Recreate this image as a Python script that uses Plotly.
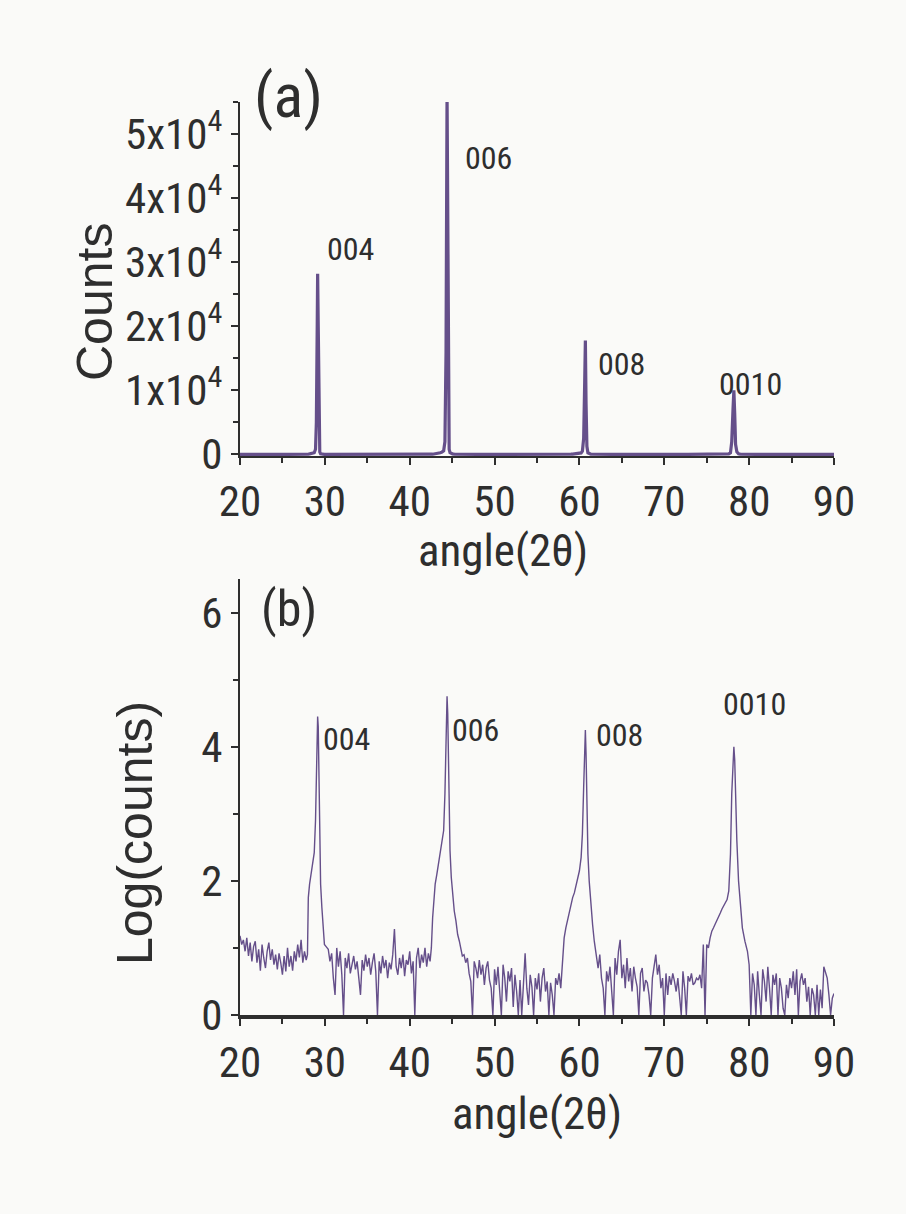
import plotly.graph_objects as go

# ---------------- data (log10 of counts) ----------------
STEP = 0.2  # sampling step of the background segments (degrees)

bg1_start = 20.0
bg1_log = [1.18, 1.05, 1.12, 0.95, 1.15, 0.88, 1.08, 0.80, 1.02, 1.10,
           0.78, 0.98, 0.66, 1.05, 0.85, 0.70, 0.95, 1.08, 0.82, 0.98,
           0.75, 0.90, 0.68, 0.92, 0.78, 0.60, 0.88, 0.65, 1.00, 0.72,
           0.88, 0.66, 0.95, 0.80, 1.05, 0.86, 1.12, 0.78, 0.95, 0.82]

p004_angle = [27.95, 28.05, 28.2, 28.4, 28.6, 28.75, 28.9, 29.0, 29.1, 29.15,
              29.22, 29.3, 29.4, 29.5, 29.65, 29.8, 29.95, 30.15]
p004_log = [0.90, 1.75, 1.95, 2.15, 2.30, 2.42, 2.9, 3.7, 4.3, 4.45,
            4.3, 3.5, 2.6, 1.95, 1.60, 1.25, 1.05, 1.02]

bg2_start = 30.4
bg2_log = [0.98, 0.80, 0.92, 0.55, 0.30, 1.00, 0.72, 0.95, 0.60, 0.00,
           0.85, 0.70, 0.92, 0.62, 0.78, 0.88, 0.68, 0.80, 0.55, 0.30,
           0.82, 0.66, 0.90, 0.72, 0.85, 0.60, 0.78, 0.92, 0.65, 0.00,
           0.80, 0.62, 0.88, 0.70, 0.82, 0.55, 0.78, 0.68, 0.90, 1.28,
           0.72, 0.60, 0.85, 0.70, 0.90, 0.58, 0.82, 0.75, 0.95, 0.62,
           0.80, 0.00, 0.85, 1.00, 0.70, 0.90, 0.78, 1.00, 0.72, 0.92,
           0.80]

p006_angle = [42.55, 42.7, 42.85, 43.0, 43.2, 43.4, 43.6, 43.8, 44.0, 44.15,
              44.28, 44.4, 44.48, 44.56, 44.65, 44.75, 44.9, 45.05, 45.25,
              45.45, 45.65, 45.85, 46.05, 46.2]
p006_log = [1.00, 1.45, 1.80, 1.95, 2.10, 2.25, 2.40, 2.55, 2.75, 3.3,
            4.2, 4.75, 4.5, 3.6, 2.9, 2.45, 2.05, 1.80, 1.55,
            1.40, 1.20, 1.10, 0.95, 0.88]

bg3_start = 46.4
bg3_log = [0.90, 0.78, 0.85, 0.62, 0.50, 0.00, 0.80, 0.70, 0.55, 0.82,
           0.60, 0.75, 0.45, 0.70, 0.80, 0.52, 0.40, 0.00, 0.68, 0.45,
           0.72, 0.30, 0.00, 0.75, 0.55, 0.20, 0.65, 0.50, 0.70, 0.12,
           0.60, 0.35, 0.00, 0.52, 0.00, 0.45, 0.92, 0.40, 0.15, 0.60,
           0.42, 0.00, 0.55, 0.38, 0.62, 0.20, 0.55, 0.70, 0.35, 0.50,
           0.00, 0.48, 0.30, 0.00, 0.55, 0.45, 0.62, 0.40, 0.75]

p008_angle = [58.2, 58.4, 58.6, 58.8, 59.0, 59.2, 59.4, 59.6, 59.8, 60.0,
              60.2, 60.35, 60.5, 60.62, 60.7, 60.78, 60.88, 61.0, 61.15,
              61.35, 61.55, 61.75, 61.9]
p008_log = [1.15, 1.30, 1.42, 1.55, 1.65, 1.75, 1.82, 1.92, 2.02, 2.15,
            2.35, 2.7, 3.4, 4.05, 4.25, 3.9, 3.1, 2.4, 2.0,
            1.6, 1.35, 1.1, 0.95]

bg4_start = 62.0
bg4_log = [0.85, 0.70, 0.90, 0.55, 0.40, 0.00, 0.65, 0.50, 0.72, 0.30,
           0.00, 0.85, 0.60, 0.95, 1.12, 0.55, 0.75, 0.40, 0.85, 0.50,
           0.70, 0.35, 0.72, 0.55, 0.42, 0.00, 0.62, 0.70, 0.35, 0.52,
           0.48, 0.30, 0.00, 0.55, 0.70, 0.90, 0.60, 0.75, 0.40, 0.55,
           0.00, 0.62, 0.30, 0.58, 0.45, 0.62, 0.50, 0.35, 0.55, 0.20,
           0.00, 0.65, 0.40, 0.00, 0.58, 0.50, 0.62, 0.45, 0.48, 0.55,
           0.52, 0.60, 0.40, 1.05, 0.00, 1.05]

p0010_angle = [75.2, 75.4, 75.6, 75.8, 76.0, 76.2, 76.4, 76.6, 76.8, 77.0,
               77.2, 77.4, 77.6, 77.8, 77.95, 78.1, 78.2, 78.3, 78.4,
               78.55, 78.75, 78.95, 79.2, 79.5, 79.8]
p0010_log = [1.00, 1.15, 1.25, 1.30, 1.35, 1.40, 1.45, 1.52, 1.58, 1.62,
             1.68, 1.72, 1.85, 2.4, 3.3, 3.85, 4.0, 3.8, 3.2,
             2.6, 2.0, 1.62, 1.30, 1.10, 0.95]

bg5_start = 80.0
bg5_log = [0.75, 0.00, 0.62, 0.45, 0.00, 0.65, 0.30, 0.00, 0.68, 0.50,
           0.20, 0.72, 0.40, 0.00, 0.60, 0.45, 0.62, 0.00, 0.55, 0.40,
           0.10, 0.00, 0.45, 0.25, 0.55, 0.40, 0.65, 0.30, 0.68, 0.00,
           0.50, 0.62, 0.45, 0.55, 0.20, 0.42, 0.00, 0.40, 0.30, 0.00,
           0.45, 0.00, 0.38, 0.10, 0.72, 0.62, 0.55, 0.30, 0.00, 0.25,
           0.32]

peak_labels = ["004", "006", "008", "0010"]
label_a_angle = [33.0, 49.3, 65.0, 80.2]
label_a_counts = [32000, 46300, 14100, 11000]
label_b_angle = [32.5, 47.8, 64.7, 80.6]
label_b_log = [4.12, 4.25, 4.17, 4.63]

y_a_tickvals = [0, 10000, 20000, 30000, 40000, 50000]
y_a_ticktext = ["0", "1x10<sup>4</sup>", "2x10<sup>4</sup>", "3x10<sup>4</sup>",
                "4x10<sup>4</sup>", "5x10<sup>4</sup>"]
x_tickvals = [20, 30, 40, 50, 60, 70, 80, 90]
y_b_tickvals = [0, 2, 4, 6]

# ---------------- assemble ----------------
def segment(start, vals):
    return [round(start + STEP * i, 3) for i in range(len(vals))], list(vals)

pieces = [segment(bg1_start, bg1_log), (p004_angle, p004_log),
          segment(bg2_start, bg2_log), (p006_angle, p006_log),
          segment(bg3_start, bg3_log), (p008_angle, p008_log),
          segment(bg4_start, bg4_log), (p0010_angle, p0010_log),
          segment(bg5_start, bg5_log)]
pts = sorted((a, v) for xs, ys in pieces for a, v in zip(xs, ys))
angle = [p[0] for p in pts]
log_counts = [p[1] for p in pts]
counts = [10 ** v for v in log_counts]

W, H = 906, 1214
LINE = "#654f8a"
INK = "#2e2e2e"
BG = "#fafaf8"
NARROW = "Liberation Sans Narrow, Arial Narrow, Roboto Condensed, DejaVu Sans Condensed, sans-serif"
WIDE = "Liberation Sans, Arial, sans-serif"

fig = go.Figure()
fig.add_trace(go.Scatter(x=angle, y=counts, mode="lines", xaxis="x", yaxis="y",
                         line=dict(color=LINE, width=3.2), showlegend=False))
fig.add_trace(go.Scatter(x=angle, y=log_counts, mode="lines", xaxis="x2", yaxis="y2",
                         line=dict(color=LINE, width=1.4), showlegend=False))

xdom = [240 / W, 834 / W]
xcommon = dict(range=[20, 90], tickvals=x_tickvals, ticks="outside", ticklen=7,
               tickwidth=1.5, tickcolor=INK, showline=True, linecolor=INK,
               showgrid=False, zeroline=False, automargin=False,
               tickfont=dict(family=NARROW, size=43, color=INK),
               minor=dict(dtick=5, tick0=20, ticks="outside", ticklen=5,
                          tickwidth=1.5, tickcolor=INK, showgrid=False))
ycommon = dict(ticks="outside", ticklen=7, tickwidth=1.5, tickcolor=INK,
               showline=True, linecolor=INK, linewidth=2, showgrid=False,
               zeroline=False, automargin=False,
               tickfont=dict(family=NARROW, size=43, color=INK))

fig.update_layout(
    template="none",
    width=W, height=H, margin=dict(l=0, r=0, t=0, b=0, autoexpand=False),
    paper_bgcolor=BG, plot_bgcolor=BG,
    xaxis=dict(domain=xdom, anchor="y", linewidth=1.5, **xcommon),
    yaxis=dict(domain=[1 - 456 / H, 1 - 102 / H], anchor="x", range=[-250, 55000],
               tickvals=y_a_tickvals, ticktext=y_a_ticktext,
               minor=dict(dtick=5000, tick0=0, ticks="outside", ticklen=5,
                          tickwidth=1.5, tickcolor=INK, showgrid=False),
               **ycommon),
    xaxis2=dict(domain=xdom, anchor="y2", linewidth=3.5, **xcommon),
    yaxis2=dict(domain=[1 - 1015 / H, 1 - 579 / H], anchor="x2", range=[0, 6.5],
                tickvals=y_b_tickvals,
                minor=dict(dtick=1, tick0=0, ticks="outside", ticklen=5,
                           tickwidth=1.5, tickcolor=INK, showgrid=False),
                **ycommon),
)

def paper_text(text, px, py, size, family, angle=0):
    fig.add_annotation(text=text, x=px / W, y=1 - py / H, xref="paper", yref="paper",
                       showarrow=False, textangle=angle, xanchor="center", yanchor="middle",
                       font=dict(family=family, size=size, color=INK))

paper_text("(a)", 288, 95, 62, NARROW)
paper_text("(b)", 289, 609, 50, NARROW)
paper_text("Counts", 95, 302, 50, WIDE, -90)
paper_text("Log(counts)", 135, 833, 50, WIDE, -90)
paper_text("angle(2θ)", 503, 550, 45, NARROW)
paper_text("angle(2θ)", 537, 1113, 45, NARROW)

for t, xa, ya in zip(peak_labels, label_a_angle, label_a_counts):
    fig.add_annotation(text=t, x=xa, y=ya, xref="x", yref="y", showarrow=False,
                       font=dict(family=NARROW, size=32, color=INK))
for t, xb, yb in zip(peak_labels, label_b_angle, label_b_log):
    fig.add_annotation(text=t, x=xb, y=yb, xref="x2", yref="y2", showarrow=False,
                       font=dict(family=NARROW, size=32, color=INK))

fig.write_html("out.html")
